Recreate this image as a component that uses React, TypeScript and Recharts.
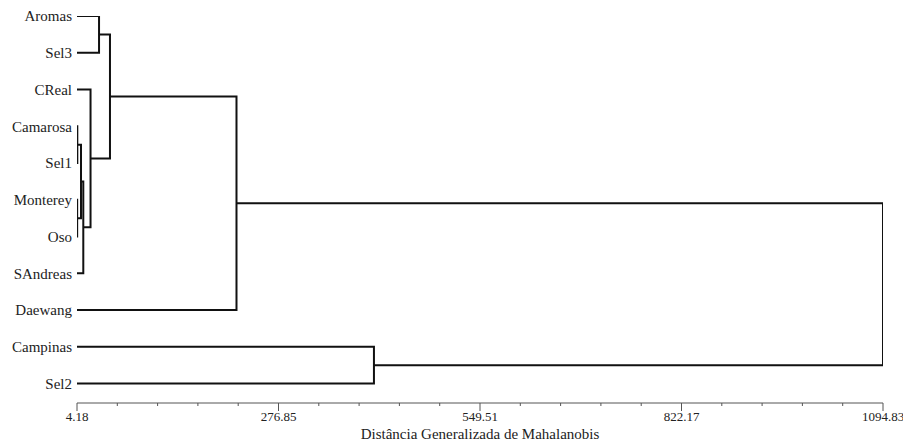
import { ComposedChart, Scatter, XAxis, YAxis } from 'recharts'

// leaves, top to bottom
const leaves = ['Aromas', 'Sel3', 'CReal', 'Camarosa', 'Sel1', 'Monterey', 'Oso', 'SAndreas', 'Daewang', 'Campinas', 'Sel2']

// linkage: [left, right, distance]; ids >= leaves.length point to earlier merges
const merges: [number, number, number][] = [
  [5, 6, 4.4],
  [3, 4, 4.6],
  [12, 11, 9.6],
  [13, 7, 12.7],
  [2, 14, 22.5],
  [0, 1, 34.0],
  [16, 15, 48.8],
  [17, 8, 220.0],
  [9, 10, 406.0],
  [18, 19, 1094.83],
]

const xMin = 4.18
const xMax = 1094.83

const axisTicks = [
  4.18, 58.71, 113.24, 167.78, 222.31, 276.85, 331.38, 385.91, 440.44, 494.98, 549.51,
  604.04, 658.57, 713.11, 767.64, 822.17, 876.7, 931.23, 985.77, 1040.3, 1094.83,
]
const majorTickLabels = ['4.18', '276.85', '549.51', '822.17', '1094.83']

const FONT = '"Liberation Serif", "Times New Roman", serif'

type Pt = { x: number; y: number }

// each merge becomes a U-shaped path: child A -> elbow -> elbow -> child B
function buildLinks(): Pt[][] {
  const pos: Pt[] = leaves.map((_, i) => ({ x: xMin, y: i }))
  const links: Pt[][] = []
  for (const [a, b, d] of merges) {
    const pa = pos[a]
    const pb = pos[b]
    links.push([
      { x: pa.x, y: pa.y },
      { x: d, y: pa.y },
      { x: d, y: pb.y },
      { x: pb.x, y: pb.y },
    ])
    pos.push({ x: d, y: (pa.y + pb.y) / 2 })
  }
  return links
}

const links = buildLinks()

function AxisTick(props: any) {
  const { x, y, payload } = props
  const label = majorTickLabels.find((l) => Math.abs(Number(l) - payload.value) < 0.01)
  return (
    <g>
      <line x1={x} y1={y} x2={x} y2={y + (label ? 8 : 3)} stroke="#555" strokeWidth={1} />
      {label && (
        <text x={x} y={y + 18} textAnchor="middle" fontSize={13} fill="#222" fontFamily={FONT}>
          {label}
        </text>
      )}
    </g>
  )
}

export default function App() {
  return (
    <div style={{ position: 'absolute', left: 0, top: 0, background: '#fff' }}>
      <ComposedChart
        width={903}
        height={441}
        margin={{ top: 16, right: 20, bottom: 0, left: 0 }}
        style={{ fontFamily: FONT }}
      >
        <XAxis
          type="number"
          dataKey="x"
          domain={[xMin, xMax]}
          allowDataOverflow
          ticks={axisTicks}
          interval={0}
          height={38}
          tickSize={0}
          tickMargin={0}
          tickLine={false}
          axisLine={{ stroke: '#555', strokeWidth: 1 }}
          tick={<AxisTick />}
          label={{
            value: 'Distância Generalizada de Mahalanobis',
            position: 'insideBottom',
            offset: 2,
            style: { fill: '#222', fontSize: 15, fontFamily: FONT },
          }}
        />
        <YAxis
          type="number"
          dataKey="y"
          reversed
          domain={[0, 10.53]}
          allowDataOverflow
          ticks={leaves.map((_, i) => i)}
          interval={0}
          width={77}
          tickSize={0}
          tickMargin={5}
          tickLine={false}
          axisLine={false}
          tickFormatter={(v: number) => leaves[v] ?? ''}
          tick={{ fill: '#222', fontSize: 15, fontFamily: FONT }}
        />
        {links.map((pts, i) => (
          <Scatter
            key={i}
            data={pts}
            line={{ stroke: '#111', strokeWidth: 2 }}
            lineType="joint"
            shape={() => <g />}
            isAnimationActive={false}
          />
        ))}
      </ComposedChart>
    </div>
  )
}
